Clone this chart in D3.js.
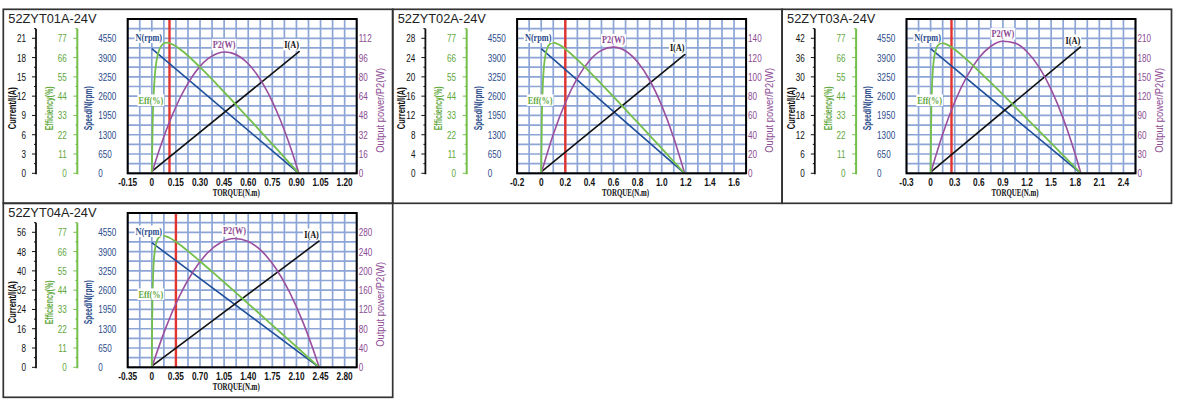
<!DOCTYPE html>
<html><head><meta charset="utf-8">
<script src="https://cdn.jsdelivr.net/npm/d3@7"></script>
<style>body{margin:0;background:#fff;} svg{display:block;}</style>
</head><body>
<svg id="chart" width="1177" height="402"></svg>
<script>
// ---------- data ----------
const panelTitles = ["52ZYT01A-24V", "52ZYT02A-24V", "52ZYT03A-24V", "52ZYT04A-24V"];
const effTicks = [0, 11, 22, 33, 44, 55, 66, 77];
const speedTicks = [0, 650, 1300, 1950, 2600, 3250, 3900, 4550];
const ratedTorque = [0.11, 0.2, 0.26, 0.35];

const torqueTicks1 = [-0.15, 0, 0.15, 0.30, 0.45, 0.60, 0.75, 0.90, 1.05, 1.20];
const torqueLabels1 = ["-0.15", "0", "0.15", "0.30", "0.45", "0.60", "0.75", "0.90", "1.05", "1.20"];
const currentTicks1 = [0, 3, 6, 9, 12, 15, 18, 21];
const powerTicks1 = [0, 16, 32, 48, 64, 80, 96, 112];
const speedTorque1 = [0, 0.915];
const speedValues1 = [4200, 0];
const currentTorque1 = [0, 0.92];
const currentValues1 = [0.3, 19];
const effTorque1 = [0, 0.005, 0.01, 0.02, 0.03, 0.05, 0.07, 0.09, 0.12, 0.15, 0.2, 0.3, 0.4, 0.5, 0.6, 0.7, 0.8, 0.9, 0.915];
const effValues1 = [0, 27.2, 41.9, 57.0, 64.5, 71.3, 73.8, 74.5, 73.9, 72.5, 69.0, 60.5, 51.2, 41.5, 31.6, 21.6, 11.6, 1.5, 0];
const powerTorque1 = [0, 0.05, 0.1, 0.15, 0.2, 0.25, 0.3, 0.35, 0.4, 0.45, 0.5, 0.55, 0.6, 0.65, 0.7, 0.75, 0.8, 0.85, 0.9, 0.915];
const powerValues1 = [0, 20.8, 39.2, 55.2, 68.7, 79.9, 88.7, 95.1, 99.0, 100.6, 99.7, 96.5, 90.9, 82.8, 72.3, 59.5, 44.2, 26.6, 6.5, 0];

const torqueTicks2 = [-0.2, 0, 0.2, 0.4, 0.6, 0.8, 1.0, 1.2, 1.4, 1.6];
const torqueLabels2 = ["-0.2", "0", "0.2", "0.4", "0.6", "0.8", "1.0", "1.2", "1.4", "1.6"];
const currentTicks2 = [0, 4, 8, 12, 16, 20, 24, 28];
const powerTicks2 = [0, 20, 40, 60, 80, 100, 120, 140];
const speedTorque2 = [0, 1.19];
const speedValues2 = [4200, 0];
const currentTorque2 = [0, 1.195];
const currentValues2 = [0.3, 24.7];
const effTorque2 = [0, 0.005, 0.01, 0.02, 0.03, 0.05, 0.075, 0.1, 0.15, 0.2, 0.3, 0.4, 0.5, 0.6, 0.7, 0.8, 0.9, 1.0, 1.1, 1.19];
const effValues2 = [0, 29.5, 44.2, 58.5, 65.3, 71.4, 73.9, 74.5, 73.3, 70.9, 64.8, 58.0, 50.9, 43.7, 36.3, 29.0, 21.6, 14.2, 6.7, 0];
const powerTorque2 = [0, 0.1, 0.2, 0.3, 0.4, 0.5, 0.6, 0.7, 0.8, 0.9, 1.0, 1.1, 1.19];
const powerValues2 = [0, 40.3, 73.2, 98.7, 116.8, 127.5, 130.8, 126.8, 115.3, 96.5, 70.2, 36.6, 0];

const torqueTicks3 = [-0.3, 0, 0.3, 0.6, 0.9, 1.2, 1.5, 1.8, 2.1, 2.4];
const torqueLabels3 = ["-0.3", "0", "0.3", "0.6", "0.9", "1.2", "1.5", "1.8", "2.1", "2.4"];
const currentTicks3 = [0, 6, 12, 18, 24, 30, 36, 42];
const powerTicks3 = [0, 30, 60, 90, 120, 150, 180, 210];
const speedTorque3 = [0, 1.87];
const speedValues3 = [4200, 0];
const currentTorque3 = [0, 1.87];
const currentValues3 = [0.4, 39.4];
const effTorque3 = [0, 0.005, 0.01, 0.02, 0.04, 0.07, 0.1, 0.145, 0.2, 0.3, 0.45, 0.6, 0.75, 0.9, 1.05, 1.2, 1.35, 1.5, 1.65, 1.8, 1.87];
const effValues3 = [0, 23.9, 37.5, 52.2, 64.5, 71.0, 73.4, 74.2, 73.5, 70.6, 64.8, 58.3, 51.7, 44.9, 38.0, 31.1, 24.2, 17.2, 10.2, 3.3, 0];
const powerTorque3 = [0, 0.15, 0.3, 0.45, 0.6, 0.75, 0.9, 1.05, 1.2, 1.35, 1.5, 1.65, 1.8, 1.87];
const powerValues3 = [0, 60.7, 110.8, 150.3, 179.2, 197.6, 205.3, 202.5, 189.1, 165.1, 130.5, 85.4, 29.6, 0];

const torqueTicks4 = [-0.35, 0, 0.35, 0.70, 1.05, 1.40, 1.75, 2.10, 2.45, 2.80];
const torqueLabels4 = ["-0.35", "0", "0.35", "0.70", "1.05", "1.40", "1.75", "2.10", "2.45", "2.80"];
const currentTicks4 = [0, 8, 16, 24, 32, 40, 48, 56];
const powerTicks4 = [0, 40, 80, 120, 160, 200, 240, 280];
const speedTorque4 = [0, 2.43];
const speedValues4 = [4200, 0];
const currentTorque4 = [0, 2.435];
const currentValues4 = [0.5, 52.5];
const effTorque4 = [0, 0.005, 0.01, 0.02, 0.04, 0.07, 0.1, 0.16, 0.25, 0.35, 0.5, 0.7, 0.9, 1.1, 1.3, 1.5, 1.7, 1.9, 2.1, 2.3, 2.43];
const effValues4 = [0, 25.2, 38.9, 53.4, 65.3, 71.6, 74.0, 75.1, 74.0, 71.6, 67.1, 60.5, 53.7, 46.8, 39.8, 32.8, 25.8, 18.7, 11.7, 4.6, 0];
const powerTorque4 = [0, 0.2, 0.4, 0.6, 0.8, 1.0, 1.2, 1.4, 1.6, 1.8, 2.0, 2.2, 2.4, 2.43];
const powerValues4 = [0, 80.7, 147.0, 198.7, 236.0, 258.8, 267.2, 261.0, 240.4, 205.3, 155.7, 91.6, 13.0, 0];

// ---------- assemble ----------
const zip = (a, b) => a.map((v, i) => [v, b[i]]);
const panels = [
  {tt: torqueTicks1, tl: torqueLabels1, ct: currentTicks1, pt: powerTicks1, speed: zip(speedTorque1, speedValues1), cur: zip(currentTorque1, currentValues1), eff: zip(effTorque1, effValues1), pow: zip(powerTorque1, powerValues1)},
  {tt: torqueTicks2, tl: torqueLabels2, ct: currentTicks2, pt: powerTicks2, speed: zip(speedTorque2, speedValues2), cur: zip(currentTorque2, currentValues2), eff: zip(effTorque2, effValues2), pow: zip(powerTorque2, powerValues2)},
  {tt: torqueTicks3, tl: torqueLabels3, ct: currentTicks3, pt: powerTicks3, speed: zip(speedTorque3, speedValues3), cur: zip(currentTorque3, currentValues3), eff: zip(effTorque3, effValues3), pow: zip(powerTorque3, powerValues3)},
  {tt: torqueTicks4, tl: torqueLabels4, ct: currentTicks4, pt: powerTicks4, speed: zip(speedTorque4, speedValues4), cur: zip(currentTorque4, currentValues4), eff: zip(effTorque4, effValues4), pow: zip(powerTorque4, powerValues4)}
];

// ---------- style ----------
const C = {green: "#74bf4b", greenText: "#62a83d", blue: "#1f4f9b", blueText: "#2d4d8c", purple: "#9a4f9f", purpleText: "#8c4b93", grid: "#8ca5d6", red: "#e2342f", frame: "#333"};
const SANS = "'Liberation Sans',Arial,sans-serif";
const SERIF = "'Liberation Serif','Times New Roman',serif";
const panelW = 389.4, panelH = 194, ox = 3.3, oy = 9.3;
const L = 124.4, R = 353.4, T = 9.7, B = 164;

const svg = d3.select("#chart");
svg.append("rect").attr("width", 1177).attr("height", 402).attr("fill", "#fff");

// condensed text helper: text drawn at origin, placed by transform
function ctext(parent, x, y, s, o) {
  const tr = `translate(${x},${y})` + (o.rot ? " rotate(-90)" : "") + ` scale(${o.sx || 1},1)`;
  const t = parent.append("text").attr("transform", tr)
    .attr("text-anchor", o.anchor || "middle").attr("dominant-baseline", "central")
    .attr("font-family", o.family || SANS).attr("font-size", o.size || 10)
    .attr("font-weight", o.bold ? "bold" : "normal").attr("fill", o.color || "#111").text(s);
  if (o.len) t.attr("textLength", o.len / (o.sx || 1)).attr("lengthAdjust", "spacingAndGlyphs");
  return t;
}

panels.forEach((p, i) => {
  const col = i % 3, row = Math.floor(i / 3);
  const g = svg.append("g").attr("transform", `translate(${ox + col * panelW},${oy + row * panelH})`);
  g.append("rect").attr("width", panelW).attr("height", panelH).attr("fill", "none").attr("stroke", C.frame).attr("stroke-width", 1.7);
  g.append("text").attr("x", 5).attr("y", 13.8).attr("font-family", SANS).attr("font-size", 12.8).attr("fill", "#222").text(panelTitles[i]);

  const xs = p.tt[1] - p.tt[0];
  const x = d3.scaleLinear().domain([p.tt[0], p.tt[p.tt.length - 1] + xs / 2]).range([L, R]);
  const cs = p.ct[1] - p.ct[0], ps = p.pt[1] - p.pt[0], es = effTicks[1] - effTicks[0], ss = speedTicks[1] - speedTicks[0];
  const yC = d3.scaleLinear().domain([0, cs * 8]).range([B, T]);
  const yE = d3.scaleLinear().domain([0, es * 8]).range([B, T]);
  const yS = d3.scaleLinear().domain([0, ss * 8]).range([B, T]);
  const yP = d3.scaleLinear().domain([0, ps * 8]).range([B, T]);

  // grid
  const gx = d3.range(0, 20).map(k => p.tt[0] + k * xs / 2);
  const gy = d3.range(0, 17).map(k => k * cs / 2);
  const grid = g.append("g").attr("stroke", C.grid).attr("stroke-width", 1.7);
  grid.selectAll("line.v").data(gx).join("line").attr("x1", d => x(d)).attr("x2", d => x(d)).attr("y1", T).attr("y2", B);
  grid.selectAll("line.h").data(gy).join("line").attr("y1", d => yC(d)).attr("y2", d => yC(d)).attr("x1", L).attr("x2", R);

  // red rated line
  g.append("line").attr("x1", x(ratedTorque[i])).attr("x2", x(ratedTorque[i])).attr("y1", T).attr("y2", B).attr("stroke", C.red).attr("stroke-width", 2.4);

  // curves
  const lineE = d3.line().x(d => x(d[0])).y(d => yE(d[1])).curve(d3.curveMonotoneX);
  const lineP = d3.line().x(d => x(d[0])).y(d => yP(d[1])).curve(d3.curveMonotoneX);
  const lineS = d3.line().x(d => x(d[0])).y(d => yS(d[1]));
  const lineC = d3.line().x(d => x(d[0])).y(d => yC(d[1]));
  g.append("path").attr("d", lineS(p.speed)).attr("fill", "none").attr("stroke", C.blue).attr("stroke-width", 1.6);
  g.append("path").attr("d", lineC(p.cur)).attr("fill", "none").attr("stroke", "#111").attr("stroke-width", 1.6);
  g.append("path").attr("d", lineP(p.pow)).attr("fill", "none").attr("stroke", C.purple).attr("stroke-width", 1.6);
  g.append("path").attr("d", lineE(p.eff)).attr("fill", "none").attr("stroke", C.green).attr("stroke-width", 1.8);

  // plot frame
  g.append("rect").attr("x", L).attr("y", T).attr("width", R - L).attr("height", B - T).attr("fill", "none").attr("stroke", "#000").attr("stroke-width", 2);

  // curve labels
  const label = (tx, ty, txt, color) => {
    const sx = 0.75;
    const t = ctext(g, tx, ty, txt, {size: 11, bold: true, sx: sx, color: color, family: SERIF});
    const bb = t.node().getBBox();
    g.insert("rect", () => t.node()).attr("x", tx - bb.width * sx / 2 - 1).attr("y", ty + bb.y + 1).attr("width", bb.width * sx + 2).attr("height", bb.height - 2).attr("fill", "#fff");
  };
  const pk = p.pow.reduce((a, b) => b[1] > a[1] ? b : a);
  const cEnd = p.cur[p.cur.length - 1];
  label(x(0) - 3, yS(p.speed[0][1]) - 12, "N(rpm)", C.blueText);
  label(x(pk[0]), yP(pk[1]) - 8, "P2(W)", C.purpleText);
  label(x(cEnd[0]) - 8, yC(cEnd[1]) - 7, "I(A)", "#111");
  label(x(0) - 1, yE(42), "Eff(%)", C.greenText);

  // x axis
  p.tt.forEach((d, k) => ctext(g, x(d), B + 8.5, p.tl[k], {size: 11.5, bold: true, sx: 0.72}));
  ctext(g, (L + R) / 2 - 6, B + 19.5, "TORQUE(N.m)", {size: 10, bold: true, len: 47, family: SERIF});

  // current axis (black)
  const axC = 32.7;
  g.append("line").attr("x1", axC).attr("x2", axC).attr("y1", yC(cs * 7.5)).attr("y2", B + 1).attr("stroke", "#111").attr("stroke-width", 1.8);
  g.selectAll(null).data(d3.range(0, 16).map(k => k * cs / 2)).join("line")
    .attr("x1", d => axC - ((d % cs === 0) ? 4 : 2)).attr("x2", axC).attr("y1", d => yC(d)).attr("y2", d => yC(d)).attr("stroke", "#111").attr("stroke-width", 1);
  p.ct.forEach(d => ctext(g, 22.7, yC(d), String(d), {size: 11, sx: 0.74, anchor: "end"}));
  ctext(g, 8.5, 99, "Current/I(A)", {size: 11, bold: true, rot: true, len: 42});

  // efficiency axis (green)
  const axE = 74;
  g.append("line").attr("x1", axE).attr("x2", axE).attr("y1", yE(es * 7.5)).attr("y2", B + 1).attr("stroke", C.green).attr("stroke-width", 2);
  g.selectAll(null).data(d3.range(0, 16).map(k => k * es / 2)).join("line")
    .attr("x1", d => axE - ((d % es === 0) ? 4 : 2)).attr("x2", axE).attr("y1", d => yE(d)).attr("y2", d => yE(d)).attr("stroke", C.green).attr("stroke-width", 1);
  effTicks.forEach(d => ctext(g, 63.4, yE(d), String(d), {size: 11, sx: 0.74, anchor: "end", color: C.greenText}));
  ctext(g, 45.7, 99, "Efficiency(%)", {size: 11, bold: true, rot: true, len: 44, color: C.greenText});

  // speed axis (blue)
  speedTicks.forEach(d => ctext(g, 95, yS(d), String(d), {size: 11, sx: 0.74, anchor: "start", color: C.blueText}));
  ctext(g, 85, 99, "Speed/N(rpm)", {size: 11, bold: true, rot: true, len: 44, color: C.blueText});

  // power axis (purple)
  p.pt.forEach(d => ctext(g, R + 2, yP(d), String(d), {size: 11, sx: 0.74, anchor: "start", color: C.purpleText}));
  ctext(g, 376.7, 101, "Output power/P2(W)", {size: 10.5, rot: true, len: 85, color: C.purpleText});
});
</script>
</body></html>
